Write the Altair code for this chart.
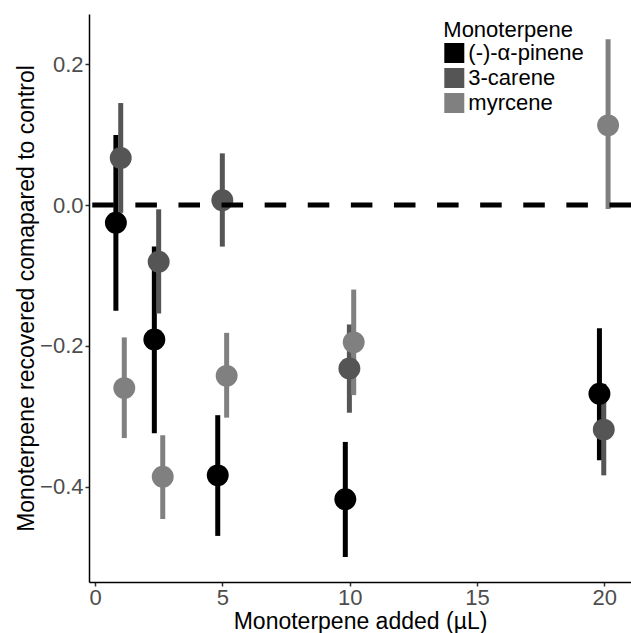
import altair as alt
import pandas as pd

series = ["(-)-α-pinene", "3-carene", "myrcene"]
colors = ["#000000", "#555555", "#808080"]

pinene_x = [0.82, 2.33, 4.82, 9.83, 19.81]
pinene_y = [-0.025, -0.191, -0.384, -0.418, -0.268]
pinene_lo = [-0.150, -0.324, -0.470, -0.500, -0.3625]
pinene_hi = [0.0995, -0.059, -0.2985, -0.3365, -0.175]

carene_x = [1.01, 2.50, 5.00, 9.99, 19.98]
carene_y = [0.067, -0.0805, 0.007, -0.232, -0.319]
carene_lo = [-0.011, -0.154, -0.059, -0.295, -0.384]
carene_hi = [0.145, -0.006, 0.0735, -0.1696, -0.254]

myrcene_x = [1.15, 2.66, 5.17, 10.16, 20.15]
myrcene_y = [-0.260, -0.386, -0.2426, -0.195, 0.1133]
myrcene_lo = [-0.331, -0.446, -0.302, -0.270, -0.0057]
myrcene_hi = [-0.188, -0.327, -0.1815, -0.120, 0.2355]

x_ticks = [0, 5, 10, 15, 20]
y_ticks = [-0.4, -0.2, 0.0, 0.2]

rows = []
for name, xs, ys, los, his in [
    (series[0], pinene_x, pinene_y, pinene_lo, pinene_hi),
    (series[1], carene_x, carene_y, carene_lo, carene_hi),
    (series[2], myrcene_x, myrcene_y, myrcene_lo, myrcene_hi),
]:
    for i in range(len(xs)):
        rows.append({"series": name, "order": series.index(name), "x": xs[i],
                     "y": ys[i], "lo": los[i], "hi": his[i]})
df = pd.DataFrame(rows)

FONT = "Liberation Sans"
xscale = alt.Scale(domain=[-0.236, 21.05], nice=False, zero=False)
yscale = alt.Scale(domain=[-0.5355, 0.2715], nice=False, zero=False)

xaxis = alt.Axis(values=x_ticks, format="d", title="Monoterpene added (µL)",
                 titleY=46, titleBaseline="alphabetic", labelPadding=1)
yaxis = alt.Axis(values=y_ticks, format=".1f",
                 title="Monoterpene recovered comapared to control",
                 titleX=-56, titleBaseline="alphabetic")

bars = alt.Chart(df).mark_rule(strokeWidth=5).encode(
    x=alt.X("x:Q", scale=xscale, axis=xaxis),
    y=alt.Y("lo:Q", scale=yscale, axis=yaxis),
    y2="hi:Q",
    stroke=alt.Stroke("series:N", scale=alt.Scale(domain=series, range=colors),
                      legend=None),
    order="order:Q",
)

points = alt.Chart(df).mark_circle(size=480, opacity=1).encode(
    x=alt.X("x:Q", scale=xscale),
    y=alt.Y("y:Q", scale=yscale),
    color=alt.Color("series:N", scale=alt.Scale(domain=series, range=colors),
                    legend=alt.Legend(
        title="Monoterpene", orient="none", legendX=354.3, legendY=6,
        symbolType="square", symbolSize=400, symbolStrokeWidth=0,
        symbolOpacity=1, labelOffset=3, rowPadding=3, titlePadding=0,
        padding=0, labelFontSize=22, titleFontSize=22, labelFont=FONT,
        titleFont=FONT, labelColor="#000000", titleColor="#000000",
        titleFontWeight="normal", labelBaseline="middle")),
    order="order:Q",
)

hline = alt.Chart(pd.DataFrame({"h": [0.0]})).mark_rule(
    strokeWidth=5, strokeDash=[21.55, 21.55], color="#000000", strokeCap="butt"
).encode(y=alt.Y("h:Q", scale=yscale))

chart = alt.layer(bars, points, hline).resolve_scale(
    color="independent", stroke="independent"
).properties(
    width=542, height=568,
    autosize=alt.AutoSizeParams(type="none"),
    padding={"left": 89, "top": 14, "right": 0, "bottom": 51},
    background="white",
).configure_view(stroke=None).configure_axis(
    grid=False, domainColor="#000000", domainWidth=1.5,
    tickColor="#333333", tickWidth=1.5, tickSize=4, labelPadding=2,
    labelColor="#4d4d4d", labelFont=FONT, labelFontSize=22,
    titleFont=FONT, titleFontSize=23, titleColor="#000000",
    titleFontWeight="normal",
)

chart.save("out.html", embed_options={"renderer": "svg", "actions": False})
